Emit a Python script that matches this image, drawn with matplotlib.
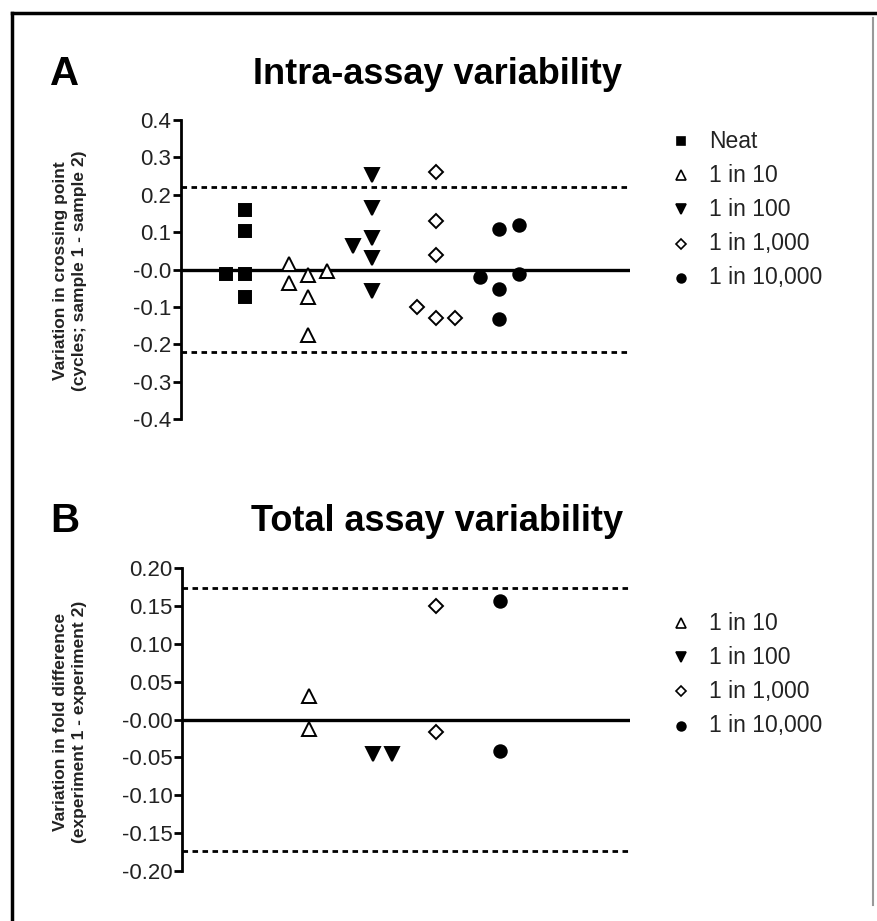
import matplotlib
matplotlib.use("Agg")
import matplotlib.pyplot as plt
from matplotlib.lines import Line2D

plt.rcParams['font.family'] = ['Liberation Sans', 'DejaVu Sans']

# ---------------- data ----------------
groups_a = ["Neat", "1 in 10", "1 in 100", "1 in 1,000", "1 in 10,000"]
neat_a = [-0.011, 0.159, 0.103, -0.012, -0.074]
neat_a_slot = [-1, 0, 0, 0, 0]
d10_a = [0.015, -0.036, -0.015, -0.074, -0.174, -0.004]
d10_a_slot = [-1, -1, 0, 0, 0, 1]
d100_a = [0.063, 0.253, 0.164, 0.083, 0.031, -0.058]
d100_a_slot = [-1, 0, 0, 0, 0, 0]
d1000_a = [0.261, 0.130, 0.038, -0.100, -0.130, -0.130]
d1000_a_slot = [0, 0, 0, -1, 0, 1]
d10000_a = [-0.021, 0.109, -0.052, -0.132, 0.119, -0.012]
d10000_a_slot = [-1, 0, 0, 0, 1, 1]
limit_a = 0.222

groups_b = ["1 in 10", "1 in 100", "1 in 1,000", "1 in 10,000"]
d10_b = [0.031, -0.012]
d10_b_slot = [0, 0]
d100_b = [-0.045, -0.045]
d100_b_slot = [0, 1]
d1000_b = [0.150, -0.017]
d1000_b_slot = [0, 0]
d10000_b = [0.157, -0.042]
d10000_b_slot = [0, 0]
limit_b = 0.174

yticks_a = [0.4, 0.3, 0.2, 0.1, 0.0, -0.1, -0.2, -0.3, -0.4]
yticklabels_a = ["0.4", "0.3", "0.2", "0.1", "-0.0", "-0.1", "-0.2", "-0.3", "-0.4"]
yticks_b = [0.20, 0.15, 0.10, 0.05, 0.0, -0.05, -0.10, -0.15, -0.20]
yticklabels_b = ["0.20", "0.15", "0.10", "0.05", "-0.00", "-0.05", "-0.10", "-0.15", "-0.20"]

# ---------------- styles ----------------
styles = {
    "Neat": dict(marker="s", mfc="black", mec="black", ms=8.5),
    "1 in 10": dict(marker="^", mfc="white", mec="black", ms=9.5),
    "1 in 100": dict(marker="v", mfc="black", mec="black", ms=9.5),
    "1 in 1,000": dict(marker="D", mfc="white", mec="black", ms=7),
    "1 in 10,000": dict(marker="o", mfc="black", mec="black", ms=9),
}
positions = {"Neat": 1, "1 in 10": 2, "1 in 100": 3, "1 in 1,000": 4, "1 in 10,000": 5}
slot_w = 0.3
txt_col = "#222222"

W, H = 878, 921
fig = plt.figure(figsize=(W / 100, H / 100), dpi=100)


def fx(px):
    return px / W


def fy(py):
    return 1 - py / H


def panel(ax, groups, series, slots, limit, yticks, ylabels, ylim):
    for g, vals, sl in zip(groups, series, slots):
        pos = positions[g]
        xs = [pos + s * slot_w for s in sl]
        st = styles[g]
        ax.plot(xs, vals, linestyle="none", marker=st["marker"], markerfacecolor=st["mfc"],
                markeredgecolor=st["mec"], markersize=st["ms"], markeredgewidth=1.4, zorder=3)
    ax.axhline(0, color="black", lw=2.4, zorder=2)
    ax.axhline(limit, color="black", lw=2.0, ls=(0, (2.0, 1.6)), zorder=2)
    ax.axhline(-limit, color="black", lw=2.0, ls=(0, (2.0, 1.6)), zorder=2)
    ax.set_xlim(0, 7.05)
    ax.set_ylim(*ylim)
    for s in ["top", "right", "bottom"]:
        ax.spines[s].set_visible(False)
    ax.spines["left"].set_linewidth(2)
    ax.set_xticks([])
    ax.set_yticks(yticks)
    ax.set_yticklabels(ylabels, fontsize=16, color=txt_col)
    ax.tick_params(axis="y", length=6, width=2, pad=1)
    ax.patch.set_alpha(0)


# Panel A
axA = fig.add_axes([fx(181), fy(419), fx(630 - 181), (419 - 120) / H])
panel(axA, groups_a, [neat_a, d10_a, d100_a, d1000_a, d10000_a],
      [neat_a_slot, d10_a_slot, d100_a_slot, d1000_a_slot, d10000_a_slot],
      limit_a, yticks_a, yticklabels_a, (-0.4, 0.4))
fig.text(fx(70), fy(271), "Variation in crossing point\n(cycles; sample 1 - sample 2)",
         rotation=90, fontsize=12.5, fontweight="bold", color=txt_col,
         ha="center", va="center", linespacing=1.4, multialignment="center")

# Panel B
axB = fig.add_axes([fx(182), fy(871), fx(630 - 182), (871 - 568) / H])
panel(axB, groups_b, [d10_b, d100_b, d1000_b, d10000_b],
      [d10_b_slot, d100_b_slot, d1000_b_slot, d10000_b_slot],
      limit_b, yticks_b, yticklabels_b, (-0.20, 0.20))
fig.text(fx(70), fy(722), "Variation in fold difference\n(experiment 1 - experiment 2)",
         rotation=90, fontsize=12.5, fontweight="bold", color=txt_col,
         ha="center", va="center", linespacing=1.4, multialignment="center")


def legend(groups, top_py):
    for k, g in enumerate(groups):
        py = top_py + k * 34.2
        st = styles[g]
        fig.add_artist(Line2D([fx(681)], [fy(py)], linestyle="none", marker=st["marker"],
                              markerfacecolor=st["mfc"], markeredgecolor=st["mec"],
                              markersize=st["ms"] * 0.7, markeredgewidth=1.2,
                              transform=fig.transFigure))
        fig.text(fx(709), fy(py), g, fontsize=16.5, color=txt_col, va="center", ha="left")


legend(groups_a, 141)
legend(groups_b, 623)

# Titles
fig.text(fx(50), fy(74), "A", fontsize=29, fontweight="bold", va="center", ha="left")
fig.text(fx(438), fy(74), "Intra-assay variability", fontsize=26, fontweight="bold",
         va="center", ha="center")
fig.text(fx(50), fy(521), "B", fontsize=29, fontweight="bold", va="center", ha="left")
fig.text(fx(437), fy(521), "Total assay variability", fontsize=26, fontweight="bold",
         va="center", ha="center")

# Frame
fig.add_artist(Line2D([fx(12), fx(12)], [fy(13), 0], color="black", lw=2.5, transform=fig.transFigure))
fig.add_artist(Line2D([fx(12), 1], [fy(13), fy(13)], color="black", lw=2.5, transform=fig.transFigure))
fig.add_artist(Line2D([fx(873), fx(873)], [fy(18), fy(905)], color="#999999", lw=1.5, transform=fig.transFigure))

fig.savefig("out.png", dpi=100, facecolor="white")
